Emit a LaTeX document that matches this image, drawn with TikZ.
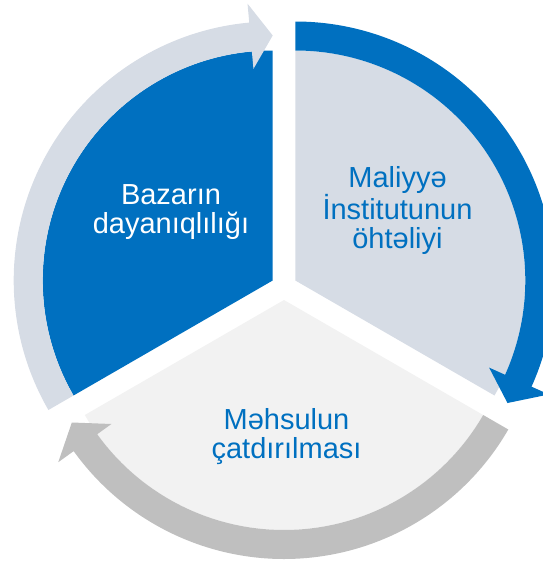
\documentclass[tikz,border=0pt]{standalone}
\usepackage{fontspec}
\setmainfont{Liberation Sans}
\definecolor{cblue}{HTML}{0070C0}
\definecolor{cpale}{HTML}{D6DCE5}
\definecolor{clight}{HTML}{F2F2F2}
\definecolor{cgray}{HTML}{BFBFBF}
\begin{document}
\begin{tikzpicture}[x=1pt,y=1pt,
  lbl/.style={font=\fontsize{29}{28.5}\selectfont, align=center, inner sep=0pt}]
\useasboundingbox (0,0) rectangle (543,-562);
\coordinate (L) at (272.7,-280.5);
\coordinate (R) at (295.3,-280.5);
\coordinate (B) at (284,-300);
% sectors
\begin{scope}[shift={(L)}]
  \fill[cblue] (0,0) -- (90:230) arc[start angle=90,end angle=210,radius=230] -- cycle;
\end{scope}
\begin{scope}[shift={(R)}]
  \fill[cpale] (0,0) -- (90:230) arc[start angle=90,end angle=-30,radius=230] -- cycle;
\end{scope}
\begin{scope}[shift={(B)}]
  \fill[clight] (0,0) -- (-30:230) arc[start angle=-30,end angle=-150,radius=230] -- cycle;
\end{scope}
% circular arrows
\begin{scope}[shift={(L)}]
  \fill[cpale] (210:259) arc[start angle=210,end angle=95.2,radius=259] -- (95.2:278) -- (90:245)
    -- (95.2:212.5) -- (95.2:230) arc[start angle=95.2,end angle=210,radius=230] -- cycle;
\end{scope}
\begin{scope}[shift={(R)}]
  \fill[cblue] (90:259) arc[start angle=90,end angle=-24.2,radius=259] -- (-24.2:278) -- (-30:245)
    -- (-24.2:212.5) -- (-24.2:230) arc[start angle=-24.2,end angle=90,radius=230] -- cycle;
\end{scope}
\begin{scope}[shift={(B)}]
  \fill[cgray] (-30:259) arc[start angle=-30,end angle=-144.3,radius=259] -- (-144.3:278) -- (-150:245)
    -- (-144.3:212.5) -- (-144.3:230) arc[start angle=-144.3,end angle=-30,radius=230] -- cycle;
\end{scope}
% labels
\node[lbl,text=white] (tL) at (171,-212.2) {Bazarın\\dayanıqlılığı};
\node[lbl,text=cblue] (tR) at (397.5,-210.5) {Maliyyə\\İnstitutunun\\öhtəliyi};
\node[lbl,text=cblue] (tB) at (286.5,-436.5) {Məhsulun\\çatdırılması};
\end{tikzpicture}
\end{document}
